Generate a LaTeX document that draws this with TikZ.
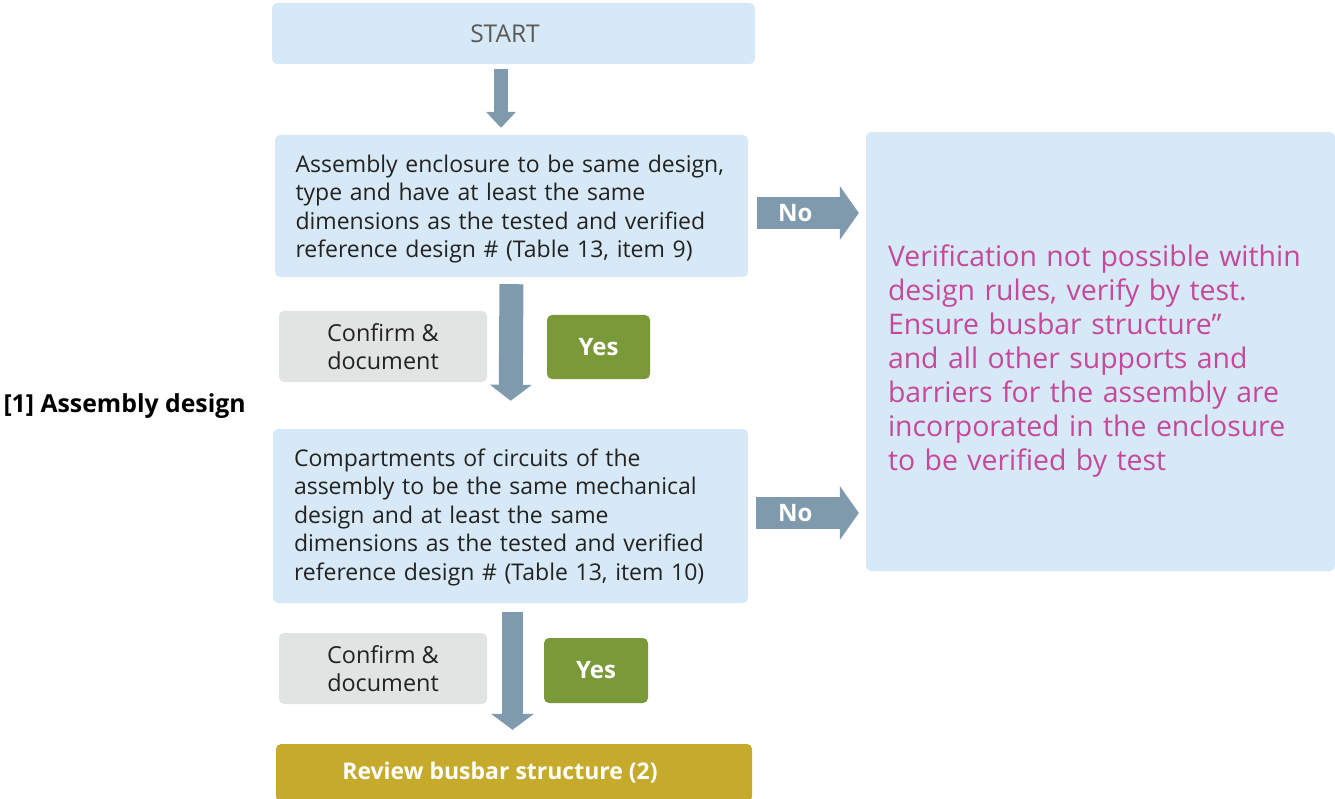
\documentclass[tikz,border=0pt]{standalone}
\usepackage{fontspec}
\setmainfont{Open Sans}
\usepackage{xcolor}
\usetikzlibrary{arrows.meta}
\definecolor{boxblue}{HTML}{D7E9F6}
\definecolor{arrowgray}{HTML}{7E9AAC}
\definecolor{verifymag}{HTML}{C6489C}
\definecolor{yesgreen}{HTML}{7A9A3A}
\definecolor{reviewgold}{HTML}{C6AA2C}
\definecolor{confirmgray}{HTML}{E2E3E3}
\definecolor{textdark}{HTML}{222222}

\begin{document}
\begin{tikzpicture}[x=1pt,y=-1pt,
  stepbox/.style={fill=boxblue, rounded corners=5pt, inner sep=0pt, text=textdark},
  textbox/.style={stepbox, align=left, font=\fontsize{23}{28.5}\selectfont},
  confirmbox/.style={fill=confirmgray, rounded corners=5pt, minimum width=208pt, minimum height=71pt, align=center, text=textdark, font=\fontsize{23.4}{28}\selectfont},
  yesbox/.style={fill=yesgreen, rounded corners=5pt, minimum width=103pt, minimum height=64pt, text=white, font=\fontsize{24}{28}\selectfont\bfseries},
  noarrow/.style={draw=arrowgray, line width=32pt, -{Triangle[length=19pt,width=53pt]}},
  downarrow/.style={draw=arrowgray, -{Triangle[length=16pt,width=#1]}},
  nolabel/.style={text=white, font=\fontsize{24}{28}\selectfont\bfseries}]
\useasboundingbox (0,0) rectangle (1335,799);

% flow boxes
\node[stepbox, minimum width=483pt, minimum height=61pt, text=black!65, font=\fontsize{24.5}{28}\selectfont] (Start) at (513.5,33.5) {START\hspace*{17pt}};
\node[textbox, minimum width=473pt, minimum height=142pt, text width=432pt] (Enclosure) at (511.5,206) {\rule{0pt}{23.5pt}Assembly enclosure to be same design,\\type and have at least the same\\dimensions as the tested and verified\\reference design \# (Table 13, item 9)};
\node[textbox, minimum width=475pt, minimum height=174pt, text width=433pt] (Compartments) at (510.5,516) {\rule{0pt}{20.5pt}Compartments of circuits of the\\assembly to be the same mechanical\\design and at least the same\\dimensions as the tested and verified\\reference design \# (Table 13, item 10)};
\node[stepbox, minimum width=469pt, minimum height=439pt, text width=425pt, align=left, text=verifymag, font=\fontsize{28.4}{34}\selectfont] (Verify) at (1100.5,351.5) {\rule{0pt}{40pt}Verification not possible within\\design rules, verify by test.\\Ensure busbar structure''\\and all other supports and\\barriers for the assembly are\\incorporated in the enclosure\\to be verified by test};
\node[fill=reviewgold, rounded corners=5pt, minimum width=476pt, minimum height=58pt, text=white, font=\fontsize{23}{27}\selectfont\bfseries] (Review) at (514,773) {Review busbar structure (2)\hspace*{28pt}};

% side boxes
\node[confirmbox] (Confirm1) at (383,346.5) {Confirm \&\\document};
\node[yesbox] (Yes1) at (598.5,347) {Yes};
\node[confirmbox] (Confirm2) at (383,668.5) {Confirm \&\\document};
\node[yesbox, minimum width=104pt, minimum height=65pt] (Yes2) at (596,670.5) {Yes};
\node[anchor=west, text=black, font=\fontsize{24.8}{28}\selectfont\bfseries] (Label) at (0,406) {[1] Assembly design};

% arrows
\draw[downarrow=29pt, line width=14pt, shorten <=5pt, shorten >=7pt] ([xshift=-12.5pt]Start.south) -- ([xshift=-10.5pt]Enclosure.north);
\draw[downarrow=41pt, line width=24pt, shorten <=7pt, shorten >=28pt] (Enclosure.south) -- (Compartments.north);
\draw[downarrow=42pt, line width=21pt, shorten <=9pt, shorten >=14pt] ([xshift=2pt]Compartments.south) -- ([xshift=-1.5pt]Review.north);
\draw[noarrow, shorten <=9pt, shorten >=7pt] ([yshift=-7pt]Enclosure.east) -- ([yshift=-7pt]Verify.west |- Enclosure.east) node[nolabel, pos=0.4] {No};
\draw[noarrow, shorten <=8pt, shorten >=7pt] ([yshift=3pt]Compartments.east) -- ([yshift=3pt]Verify.west |- Compartments.east) node[nolabel, pos=0.4] {No};
\end{tikzpicture}
\end{document}
